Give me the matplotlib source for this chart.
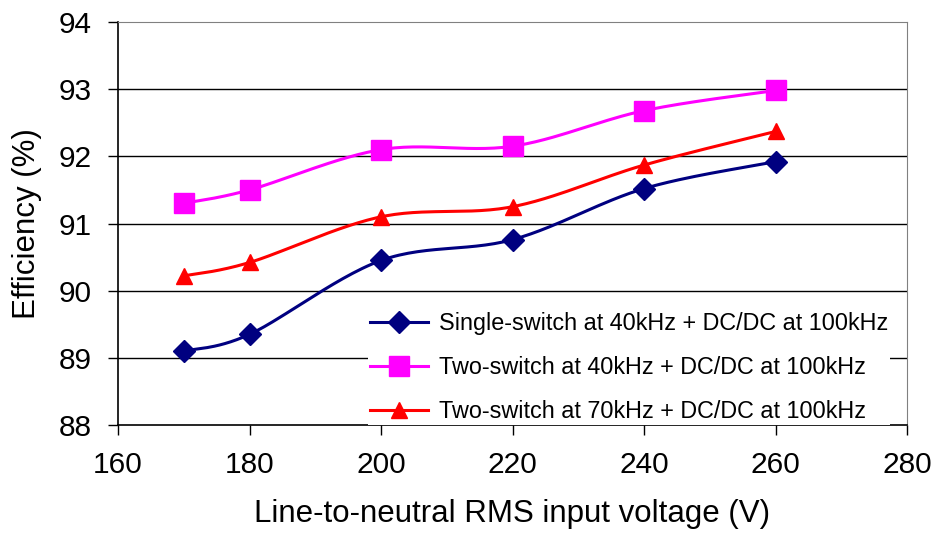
import numpy as np
import matplotlib.pyplot as plt

voltage = [170, 180, 200, 220, 240, 260]
single_40k = [89.10, 89.35, 90.45, 90.76, 91.52, 91.92]
two_40k = [91.30, 91.50, 92.10, 92.15, 92.68, 92.98]
two_70k = [90.22, 90.42, 91.10, 91.25, 91.87, 92.37]

labels = [
    "Single-switch at 40kHz + DC/DC at 100kHz",
    "Two-switch at 40kHz + DC/DC at 100kHz",
    "Two-switch at 70kHz + DC/DC at 100kHz",
]

plt.rcParams['font.family'] = ['Liberation Sans', 'DejaVu Sans']


def smooth(x, y, sx=789 / 120, sy=403 / 6, n=30):
    # Excel-style smoothed line: cubic Bezier with Catmull-Rom control points,
    # computed in (approximate) pixel space
    p = np.column_stack([np.asarray(x) * sx, np.asarray(y) * sy])
    out = []
    for i in range(len(p) - 1):
        p0 = p[i - 1] if i > 0 else p[i]
        p1, p2 = p[i], p[i + 1]
        p3 = p[i + 2] if i + 2 < len(p) else p[i + 1]
        c1 = p1 + (p2 - p0) / 6
        c2 = p2 - (p3 - p1) / 6
        t = np.linspace(0, 1, n)[:, None]
        seg = ((1 - t) ** 3) * p1 + 3 * ((1 - t) ** 2) * t * c1 + 3 * (1 - t) * t ** 2 * c2 + t ** 3 * p2
        out.append(seg if i == 0 else seg[1:])
    out = np.vstack(out)
    return out[:, 0] / sx, out[:, 1] / sy


fig = plt.figure(figsize=(9.37, 5.36), dpi=100)
ax = fig.add_axes([0.126, 0.207, 0.842, 0.752])

series = [
    (single_40k, "#000080", "D", 11),
    (two_40k, "#FF00FF", "s", 14.5),
    (two_70k, "#FF0000", "^", 11),
]
for (vals, color, marker, ms), lab in zip(series, labels):
    sx_, sy_ = smooth(voltage, vals)
    ax.plot(sx_, sy_, color=color, lw=2.2, zorder=3)
    ax.plot(voltage, vals, ls="none", marker=marker, ms=ms, color=color, zorder=4)
    ax.plot([], [], color=color, lw=2.2, marker=marker, ms=ms, label=lab)

ax.set_xlim(160, 280)
ax.set_ylim(88, 94)
ax.set_xticks(range(160, 281, 20))
ax.set_yticks(range(88, 95))
ax.tick_params(labelsize=21.5, length=7, width=1, color="black")
ax.tick_params(axis="x", pad=12)
ax.tick_params(axis="y", pad=12)
for y in range(89, 94):
    ax.axhline(y, color="black", lw=1, zorder=1)

ax.spines["top"].set_color("#808080")
ax.spines["right"].set_color("#808080")
ax.spines["left"].set_linewidth(1.2)
ax.spines["bottom"].set_linewidth(1.2)

ax.set_xlabel("Line-to-neutral RMS input voltage (V)", fontsize=22.5, labelpad=14)
ax.set_ylabel("Efficiency (%)", fontsize=22.5, labelpad=12)

leg = ax.legend(loc="lower right", bbox_to_anchor=(0.979, 0.0), fontsize=16.8,
                frameon=True, fancybox=False, edgecolor="none", facecolor="white",
                framealpha=1, handlelength=2.5, handletextpad=0.45, labelspacing=0.9,
                borderpad=0.1, borderaxespad=0.0)

fig.savefig("out.png", dpi=100)
